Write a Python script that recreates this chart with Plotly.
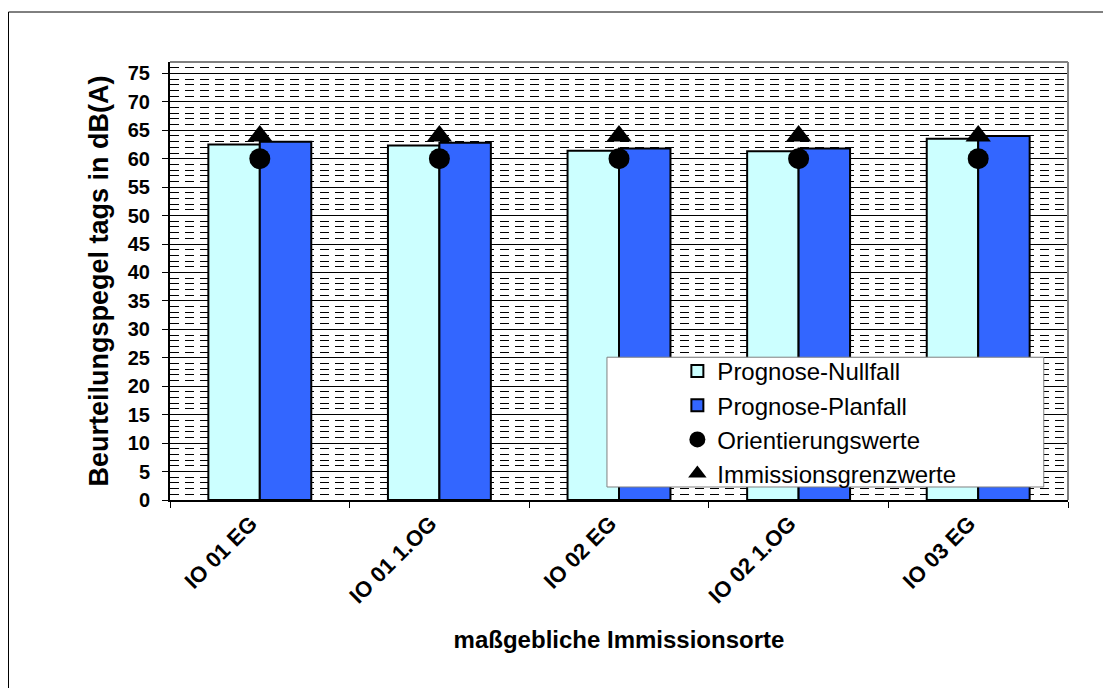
import plotly.graph_objects as go

categories = ["IO 01 EG", "IO 01 1.OG", "IO 02 EG", "IO 02 1.OG", "IO 03 EG"]
nullfall = [62.5, 62.3, 61.4, 61.3, 63.5]
planfall = [63.0, 62.8, 61.8, 61.8, 64.0]
orientierung = [60, 60, 60, 60, 60]
grenzwerte = [64, 64, 64, 64, 64]
y_ticks = list(range(0, 80, 5))

FONT = "Arial, Liberation Sans, sans-serif"

# page has an 8px body margin; plot area on screen: x 170..1068, y 62..500
L, T, W, H = 162, 54, 898, 438

fig = go.Figure()
fig.add_trace(go.Bar(x=categories, y=nullfall, name="Prognose-Nullfall",
                     marker=dict(color="#CCFFFF", line=dict(color="black", width=2)),
                     legendgroup="a"))
fig.add_trace(go.Bar(x=categories, y=planfall, name="Prognose-Planfall",
                     marker=dict(color="#3366FF", line=dict(color="black", width=2)),
                     legendgroup="b"))
fig.add_trace(go.Scatter(x=categories, y=orientierung, name="Orientierungswerte",
                         mode="markers", marker=dict(symbol="circle", size=21, color="black"),
                         legendgroup="c"))
fig.add_trace(go.Scatter(x=categories, y=grenzwerte, name="Immissionsgrenzwerte",
                         mode="markers", marker=dict(symbol="triangle-up", size=22, color="black"),
                         legendgroup="d"))

# legend background box
fig.add_shape(type="rect", xref="paper", yref="paper",
              x0=0.4866, x1=0.973, y0=0.0297, y1=0.326,
              fillcolor="white", line=dict(color="#808080", width=1), layer="above")
# plot area frame (top/right grey)
fig.add_shape(type="line", xref="paper", yref="paper", x0=0, x1=1, y0=1, y1=1,
              line=dict(color="#808080", width=2))
fig.add_shape(type="line", xref="paper", yref="paper", x0=1, x1=1, y0=0, y1=1,
              line=dict(color="#808080", width=2))
# outer chart border (left/top)
bx = (0.5 - L) / W
by = 1 + (T - 4) / H
fig.add_shape(type="line", xref="paper", yref="paper",
              x0=bx, x1=bx, y0=-1, y1=by, line=dict(color="black", width=1))
fig.add_shape(type="line", xref="paper", yref="paper",
              x0=bx, x1=2, y0=by, y1=by, line=dict(color="black", width=1))

fig.update_layout(
    width=1111, height=688,
    margin=dict(l=L, r=1111 - L - W, t=T, b=688 - T - H),
    paper_bgcolor="white", plot_bgcolor="white",
    barmode="group", bargap=0.427, bargroupgap=0,
    font=dict(family=FONT, color="black", size=16),
    showlegend=True,
    legend=dict(x=0.565, y=0.345, xanchor="left", yanchor="top",
                bgcolor="rgba(0,0,0,0)", borderwidth=0,
                font=dict(size=24, family=FONT),
                traceorder="grouped", tracegroupgap=0),
    xaxis=dict(type="category", tickson="boundaries", ticks="outside", ticklen=6,
               tickcolor="black", showline=True, linecolor="black", linewidth=2,
               showgrid=False, tickangle=-45, ticklabelshift=-9,
               tickfont=dict(size=22, family=FONT, weight="bold"),
               title=dict(text="maßgebliche Immissionsorte", standoff=24,
                          font=dict(size=24, family=FONT, weight="bold"))),
    yaxis=dict(range=[0, 77], tickvals=y_ticks, ticks="outside", ticklen=6,
               tickcolor="black", showline=True, linecolor="black", linewidth=2,
               showgrid=True, gridcolor="black", gridwidth=1, zeroline=False,
               ticklabelstandoff=8,
               minor=dict(dtick=1, showgrid=True, gridcolor="black", gridwidth=1,
                          griddash="9px,6px", ticks=""),
               tickfont=dict(size=20, family=FONT, weight="bold"),
               title=dict(text="Beurteilungspegel tags in dB(A)", standoff=11,
                          font=dict(size=27, family=FONT, weight="bold"))),
)

fig.write_html("out.html")
